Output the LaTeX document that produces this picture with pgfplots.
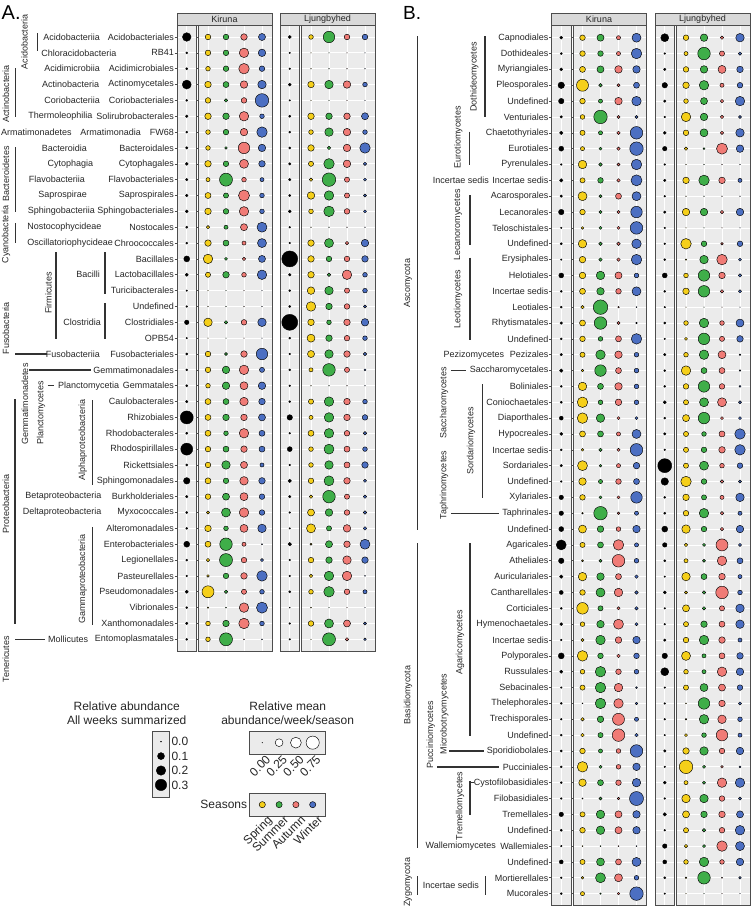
\documentclass[border=0pt]{standalone}
\usepackage{fontspec}
\setmainfont{Liberation Sans}
\usepackage{pgfplots}
\usepackage{pgfplotstable}
\pgfplotsset{compat=1.18}

\definecolor{cSpr}{HTML}{F5CF1A}
\definecolor{cSum}{HTML}{3FAE49}
\definecolor{cAut}{HTML}{F07B76}
\definecolor{cWin}{HTML}{4C6FC2}
\definecolor{panelbg}{HTML}{EBEBEB}
\definecolor{stripbg}{HTML}{D9D9D9}
\definecolor{frame}{HTML}{4D4D4D}
\definecolor{txt}{HTML}{262626}
\definecolor{barc}{HTML}{333333}

\newcommand\fs{\fontsize{9}{10}\selectfont}
\newcommand\fl{\fontsize{12}{14}\selectfont}

% columns: row, Kiruna (all weeks, spring, summer, autumn, winter), Ljungbyhed (same)
\pgfplotstableread{
r kb ky kg kr kw lb ly lg lr lw
1 0.16 0.12 0.12 0.17 0.20 0.011 0.08 0.57 0.12 0.12
2 0.003 0.12 0.12 0.38 0.23 0.001 0 0 0 0
3 0.003 0.08 0.12 0.47 0.12 0.001 0 0 0 0
4 0.177 0.17 0.14 0.23 0.30 0.011 0.17 0.30 0.23 0.08
5 0.003 0.12 0.04 0.12 0.79 0.001 0 0 0 0
6 0.006 0.17 0.17 0.38 0.08 0.003 0.17 0.17 0.17 0.20
7 0.003 0.08 0.12 0.23 0.47 0.003 0.08 0.30 0.23 0.08
8 0.006 0.08 0.02 0.57 0.23 0.003 0.17 0.04 0.23 0.47
9 0.011 0.17 0.12 0.34 0.17 0.006 0.10 0.47 0.23 0.04
10 0.006 0.06 0.73 0.08 0.06 0.006 0.04 0.79 0.10 0.03
11 0.006 0.14 0.10 0.52 0.08 0.003 0.23 0.38 0.10 0.03
12 0.011 0.17 0.12 0.38 0.08 0.011 0.08 0.47 0.12 0.03
13 0.003 0.04 0.06 0.20 0.42 0.001 0 0 0 0
14 0.003 0.17 0.14 0.06 0.34 0.001 0.17 0.34 0.04 0.23
15 0.069 0.38 0.03 0.04 0.20 0.623 0.17 0.12 0.12 0.17
16 0.011 0.10 0.17 0.08 0.38 0.006 0.17 0.04 0.38 0.08
17 0.001 0 0 0 0 0.003 0.23 0.30 0.10 0.08
18 0.001 0 0 0 0 0.003 0.38 0.17 0.12 0.03
19 0.034 0.30 0.04 0.12 0.30 0.623 0.17 0.08 0.17 0.23
20 0.001 0 0 0 0 0.003 0.26 0.17 0.12 0.08
21 0.003 0.12 0.03 0.17 0.57 0.001 0.20 0.30 0.17 0.04
22 0.003 0.12 0.23 0.38 0.10 0.003 0.06 0.68 0.10 0.01
23 0.003 0.08 0.23 0.26 0.23 0.001 0 0 0 0
24 0.006 0.14 0.14 0.30 0.17 0.003 0.10 0.38 0.17 0.08
25 0.40 0.14 0.17 0.17 0.20 0.056 0.06 0.38 0.17 0.12
26 0.003 0.14 0.08 0.38 0.14 0.001 0.14 0.38 0.12 0.04
27 0.335 0.12 0.14 0.17 0.14 0.044 0.08 0.42 0.14 0.08
28 0.003 0.12 0.30 0.20 0.06 0.001 0.08 0.30 0.14 0.17
29 0.084 0.14 0.12 0.30 0.17 0.017 0.12 0.42 0.17 0.03
30 0.006 0.12 0.20 0.26 0.12 0.006 0.04 0.68 0.10 0.04
31 0.003 0.03 0.34 0.38 0.12 0.001 0.20 0.23 0.12 0.04
32 0.003 0.17 0.08 0.26 0.30 0.001 0.34 0.10 0.23 0.04
33 0.069 0.14 0.68 0.06 0.001 0.017 0.01 0.20 0.17 0.42
34 0.003 0.04 0.73 0.12 0.03 0.001 0.12 0.17 0.30 0.17
35 0.001 0.02 0.12 0.17 0.47 0.001 0.04 0.38 0.38 0.001
36 0.011 0.62 0.04 0.10 0.08 0.003 0.08 0.47 0.12 0.06
37 0.003 0.005 0.001 0.38 0.52 0 0.001 0 0 0
38 0.006 0.08 0.17 0.47 0.08 0.001 0.12 0.34 0.20 0.03
39 0.003 0.08 0.73 0.001 0.001 0.001 0 0.73 0.04 0.02
}\dA

\pgfplotstableread{
r kb ky kg kr kw lb ly lg lr lw
1 0.011 0.12 0.20 0.06 0.34 0.136 0.12 0.23 0.04 0.30
2 0.003 0.12 0.12 0.06 0.47 0.001 0.06 0.68 0.10 0.04
3 0.011 0.14 0.20 0.23 0.23 0.006 0.12 0.23 0.26 0.17
4 0.084 0.62 0.04 0.03 0.14 0.056 0.17 0.38 0.06 0.12
5 0.056 0.12 0.06 0.23 0.38 0.006 0.08 0.20 0.04 0.38
6 0.006 0.08 0.79 0.03 0.03 0.001 0.38 0.23 0.04 0.03
7 0.017 0.10 0.06 0.04 0.68 0.011 0.12 0.26 0.04 0.30
8 0.044 0.06 0.03 0.04 0.79 0.034 0.04 0.01 0.52 0.23
9 0.001 0.30 0.04 0.03 0.47 0.001 0 0 0 0
10 0.017 0.10 0.12 0.04 0.52 0.006 0.17 0.47 0.17 0.06
11 0.006 0.34 0.03 0.14 0.34 0.001 0 0 0 0
12 0.056 0.12 0.03 0.03 0.57 0.006 0.23 0.23 0.04 0.23
13 0.001 0.02 0.03 0.03 0.68 0.001 0 0 0 0
14 0.003 0.30 0.04 0.04 0.38 0.001 0.47 0.12 0.02 0.12
15 0.001 0.17 0.04 0.04 0.47 0.003 0.005 0.30 0.47 0.03
16 0.044 0.17 0.30 0.20 0.08 0.044 0.08 0.57 0.17 0.04
17 0.003 0.14 0.23 0.12 0.34 0.003 0.17 0.57 0.04 0.03
18 0.003 0.04 0.92 0.005 0.001 0.001 0 0 0 0
19 0.006 0.14 0.68 0.03 0.005 0.003 0.08 0.38 0.08 0.26
20 0.003 0.12 0.08 0.14 0.47 0.001 0.03 0.57 0.10 0.17
21 0.006 0.10 0.38 0.23 0.08 0.006 0.08 0.38 0.26 0.005
22 0.017 0.02 0.57 0.14 0.08 0.003 0.38 0.14 0.14 0.005
23 0.003 0.30 0.14 0.23 0.08 0.003 0.12 0.57 0.12 0.01
24 0.003 0.47 0.08 0.17 0.08 0.011 0.10 0.34 0.34 0.03
25 0.025 0.47 0.30 0.03 0.03 0.003 0.20 0.57 0.03 0.03
26 0.011 0.14 0.14 0.06 0.34 0.006 0.10 0.08 0.14 0.47
27 0.003 0.02 0.04 0.03 0.68 0.001 0.10 0.12 0.17 0.47
28 0.006 0.42 0.02 0.06 0.17 0.468 0.10 0.34 0.08 0.12
29 0.001 0.23 0.06 0.12 0.14 0.117 0.47 0.12 0.04 0.03
30 0.034 0.12 0.03 0.03 0.57 0.003 0.17 0.10 0.06 0.30
31 0.034 0.005 0.79 0.02 0.06 0.003 0.12 0.38 0.04 0.06
32 0.044 0.26 0.17 0.08 0.23 0.069 0.30 0.12 0.04 0.23
33 0.224 0.10 0.14 0.47 0.06 0.034 0.04 0.03 0.62 0.03
34 0.056 0.01 0.03 0.68 0.08 0.003 0.06 0.03 0.38 0.14
35 0.017 0.30 0.23 0.14 0.04 0.001 0.30 0.14 0.17 0.06
36 0.025 0.12 0.34 0.30 0.04 0.011 0.03 0.04 0.68 0.08
37 0.003 0.57 0.10 0.03 0.04 0.001 0.20 0.04 0.10 0.30
38 0.011 0.08 0.23 0.42 0.03 0.001 0.10 0.17 0.14 0.30
39 0.001 0.03 0.38 0.17 0.23 0.006 0.12 0.38 0.17 0.06
40 0.069 0.47 0.12 0.04 0.12 0.056 0.34 0.06 0.14 0.17
41 0.011 0.08 0.47 0.12 0.08 0.136 0.08 0.06 0.38 0.23
42 0.001 0.10 0.47 0.30 0.01 0.001 0.10 0.26 0.20 0.12
43 0.003 0.001 0.47 0.38 0.02 0.001 0.001 0.57 0.17 0.03
44 0.001 0.04 0.17 0.62 0.06 0.001 0.005 0.38 0.30 0.08
45 0.003 0.04 0.10 0.68 0.04 0.001 0.03 0.08 0.57 0.06
46 0.003 0.12 0.06 0.08 0.68 0.006 0.17 0.30 0.12 0.23
47 0.003 0.47 0.03 0.08 0.23 0.001 0.79 0.03 0.02 0.01
48 0.003 0.23 0.14 0.12 0.30 0.011 0.06 0.03 0.38 0.38
49 0.001 0.001 0.03 0.02 0.85 0.001 0.30 0.30 0.12 0.03
50 0.034 0.10 0.30 0.20 0.23 0.017 0.20 0.17 0.17 0.20
51 0.003 0.12 0.30 0.20 0.23 0.001 0.10 0.04 0.12 0.38
52 0.001 0.001 0.001 0.001 0.001 0.034 0.04 0.03 0.47 0.34
53 0.025 0.10 0.26 0.14 0.34 0.025 0.08 0.38 0.08 0.23
54 0.001 0.02 0.42 0.26 0.08 0.003 0.005 0.68 0.001 0.02
55 0.003 0.06 0.005 0.02 0.79 0.001 0 0 0 0
}\dB

\pgfplotstableread{
r v
1 0
2 0.1
3 0.2
4 0.3
}\keyA

\pgfplotstableread{
x v
1 0
2 0.25
3 0.50
4 0.75
}\keyB

\pgfplotsset{
  base/.style={scale only axis, y dir=reverse, clip=false,
    axis background/.style={fill=panelbg},
    axis line style={draw=frame, line width=0.7pt},
    grid=major, major grid style={white, line width=0.8pt},
    xtick style={draw=none}, ytick style={draw=none},
    xticklabels={}, yticklabels={}},
  blk/.style={base, width=19.5pt, xmin=-0.5, xmax=0.5, xtick={0}},
  ssn/.style={base, width=73.5pt, xmin=0.472, xmax=4.556, xtick={1,2,3,4}},
  pA/.style={height=626.1pt, ymin=0.25, ymax=39.75, ytick={1,...,39}},
  pB/.style={height=879.7pt, ymin=0.25, ymax=55.75, ytick={1,...,55}},
  labs/.style={tick align=outside, major tick length=2.3pt,
    ytick style={draw=frame, line width=0.6pt},
    yticklabel style={font=\fs, text=txt, inner sep=0.5pt}},
  bub/.style={only marks, scatter, mark=*, point meta=y,
    scatter/use mapped color={draw=black, fill=#1}, mark options={line width=0.45pt}},
  sz/.style={visualization depends on={0.25+7.3*sqrt(\thisrow{#1})\as\msz},
    scatter/@pre marker code/.append style={/tikz/mark size=\msz pt}},
  bk/.style={only marks, scatter, mark=*, point meta=y,
    scatter/use mapped color={draw=none, fill=black},
    visualization depends on={0.5+9.5*sqrt(\thisrow{#1})\as\msz},
    scatter/@pre marker code/.append style={/tikz/mark size=\msz pt}},
}

\newcommand\tl[3]{\node[anchor=east,font=\fs,text=txt,inner sep=0pt] at (#1pt,-#2pt) {#3};}
\newcommand\rl[3]{\node[rotate=90,font=\fs,text=txt,inner sep=0pt] at (#1pt,-#2pt) {#3};}
\newcommand\vb[3]{\draw[barc, line width=1.4pt] (#1pt,-#2pt) -- (#1pt,-#3pt);}
\newcommand\hb[3]{\draw[barc, line width=1.4pt] (#2pt,-#1pt) -- (#3pt,-#1pt);}
\newcommand\strip[4]{\draw[fill=stripbg, draw=frame, line width=0.7pt] (#1pt,-13pt) rectangle (#2pt,-#3pt);
  \node[font=\fs, text=txt] at ({(#1+#2)/2*1pt},-19pt) {#4};}

\begin{document}
\begin{tikzpicture}
\useasboundingbox (0,0) rectangle (752pt,-913pt);

% ---------------- Panel A ----------------
\node[anchor=base west, font=\fontsize{20}{22}\selectfont, inner sep=0pt] at (1.5pt,-19pt) {A.};
\strip{177}{272}{25.1}{Kiruna}
\strip{280}{375}{25.1}{Ljungbyhed}

\begin{axis}[blk, pA, labs, at={(177pt,-25.1pt)}, anchor=north west,
  yticklabels={Acidobacteriales, RB41, Acidimicrobiales, Actinomycetales, Coriobacteriales,
    Solirubrobacterales, FW68, Bacteroidales, Cytophagales, Flavobacteriales, Saprospirales,
    Sphingobacteriales, Nostocales, Chroococcales, Bacillales, Lactobacillales, Turicibacterales,
    Undefined, Clostridiales, OPB54, Fusobacteriales, Gemmatimonadales, Gemmatales, Caulobacterales,
    Rhizobiales, Rhodobacterales, Rhodospirillales, Rickettsiales, Sphingomonadales, Burkholderiales,
    Myxococcales, Alteromonadales, Enterobacteriales, Legionellales, Pasteurellales, Pseudomonadales,
    Vibrionales, Xanthomonadales, Entomoplasmatales}]
\addplot[bk=kb] table[x expr=0, y=r]{\dA};
\end{axis}
\begin{axis}[ssn, pA, at={(198.5pt,-25.1pt)}, anchor=north west]
\addplot[bub=cSpr, sz=ky] table[x expr=1, y=r]{\dA};
\addplot[bub=cSum, sz=kg] table[x expr=2, y=r]{\dA};
\addplot[bub=cAut, sz=kr] table[x expr=3, y=r]{\dA};
\addplot[bub=cWin, sz=kw] table[x expr=4, y=r]{\dA};
\end{axis}
\begin{axis}[blk, pA, at={(280pt,-25.1pt)}, anchor=north west]
\addplot[bk=lb] table[x expr=0, y=r]{\dA};
\end{axis}
\begin{axis}[ssn, pA, at={(301.5pt,-25.1pt)}, anchor=north west]
\addplot[bub=cSpr, sz=ly] table[x expr=1, y=r]{\dA};
\addplot[bub=cSum, sz=lg] table[x expr=2, y=r]{\dA};
\addplot[bub=cAut, sz=lr] table[x expr=3, y=r]{\dA};
\addplot[bub=cWin, sz=lw] table[x expr=4, y=r]{\dA};
\end{axis}

% taxonomy labels A
\tl{100}{37}{Acidobacteriia}
\tl{116.5}{52.85}{Chloracidobacteria}
\tl{100}{68.7}{Acidimicrobiia}
\tl{99.3}{84.55}{Actinobacteria}
\tl{100}{100.4}{Coriobacteriia}
\tl{92.7}{116.25}{Thermoleophilia}
\node[anchor=west,font=\fs,text=txt,inner sep=0pt] at (1pt,-132.1pt) {Armatimonadetes};
\tl{141}{132.1}{Armatimonadia}
\tl{87}{147.95}{Bacteroidia}
\tl{93.3}{163.8}{Cytophagia}
\tl{85}{179.65}{Flavobacteriia}
\tl{87}{195.5}{Saprospirae}
\tl{95}{211.35}{Sphingobacteriia}
\tl{101.7}{227.2}{Nostocophycideae}
\tl{113}{243.05}{Oscillatoriophycideae}
\tl{100}{274.75}{Bacilli}
\tl{101}{322.3}{Clostridia}
\tl{100}{354}{Fusobacteriia}
\tl{119.3}{385.7}{Planctomycetia}
\tl{101.7}{496.65}{Betaproteobacteria}
\tl{101.7}{512.5}{Deltaproteobacteria}
\tl{88.3}{639.3}{Mollicutes}
\rl{24.3}{42}{Acidobacteria}
\rl{6}{94}{Actinobacteria}
\rl{6}{174}{Bacteroidetes}
\rl{6}{234}{Cyanobacteria}
\rl{48.3}{293}{Firmicutes}
\rl{6}{328}{Fusobacteria}
\rl{25}{404}{Gemmatimonadetes}
\rl{41}{413}{Planctomycetes}
\rl{82.7}{440}{Alphaproteobacteria}
\rl{6}{504}{Proteobacteria}
\rl{82.7}{579}{Gammaproteobacteria}
\rl{6}{659}{Tenericutes}
\vb{37.7}{33}{51}
\vb{15.7}{68}{116.5}
\vb{15.7}{147}{211.5}
\vb{15.7}{223}{243}
\vb{56}{252}{338.5}
\vb{105}{252}{294}
\vb{105}{303}{338.5}
\vb{15}{399}{623.5}
\vb{92.7}{400}{485}
\vb{92.7}{527}{625}
\hb{354}{15}{46.7}
\hb{369.85}{29.3}{90.7}
\hb{385.7}{47.7}{54.3}
\hb{639.3}{15}{45}

% ---------------- Legends ----------------
\node[align=center, font=\fl, text=txt] at (126.7pt,-713pt) {Relative abundance\\All weeks summarized};
\node[align=center, font=\fl, text=txt] at (287.7pt,-713pt) {Relative mean\\abundance/week/season};

\begin{axis}[scale only axis, at={(152.7pt,-731.7pt)}, anchor=north west, width=16.6pt, height=65.6pt,
  y dir=reverse, xmin=-0.5, xmax=0.5, ymin=0.306, ymax=4.86, clip=false,
  axis background/.style={fill=panelbg}, axis line style={draw=frame, line width=0.7pt},
  xtick=\empty, ytick={1,2,3,4}, yticklabels={0.0,0.1,0.2,0.3},
  ytick pos=right, yticklabel pos=right, ytick style={draw=none},
  yticklabel style={font=\fl, text=txt, inner sep=0pt, xshift=2pt}]
\addplot[bk=v] table[x expr=0, y=r]{\keyA};
\end{axis}

\begin{axis}[scale only axis, at={(249.3pt,-731pt)}, anchor=north west, width=76.4pt, height=23.3pt,
  xmin=0.226, xmax=4.774, ymin=0, ymax=1, clip=false,
  axis background/.style={fill=panelbg}, axis line style={draw=frame, line width=0.7pt},
  ytick=\empty, xtick={1,2,3,4}, xticklabels={0.00,0.25,0.50,0.75}, xtick style={draw=none},
  xticklabel style={font=\fl, text=txt, rotate=45, anchor=north east, inner sep=0pt, xshift=2pt, yshift=-2pt}]
\addplot[bub=white, sz=v] table[x=x, y expr=0.5]{\keyB};
\end{axis}

\begin{axis}[scale only axis, at={(249.3pt,-793.3pt)}, anchor=north west, width=76.4pt, height=22.7pt,
  xmin=0.226, xmax=4.774, ymin=0, ymax=1, clip=false,
  axis background/.style={fill=panelbg}, axis line style={draw=frame, line width=0.7pt},
  ytick=\empty, xtick={1,2,3,4}, xticklabels={Spring,Summer,Autumn,Winter}, xtick style={draw=none},
  xticklabel style={font=\fl, text=txt, rotate=45, anchor=north east, inner sep=0pt, xshift=4pt, yshift=-2pt}]
\addplot[only marks, mark=*, mark size=3.1pt, mark options={draw=black, fill=cSpr, line width=0.45pt}] coordinates {(1,0.5)};
\addplot[only marks, mark=*, mark size=3.1pt, mark options={draw=black, fill=cSum, line width=0.45pt}] coordinates {(2,0.5)};
\addplot[only marks, mark=*, mark size=3.1pt, mark options={draw=black, fill=cAut, line width=0.45pt}] coordinates {(3,0.5)};
\addplot[only marks, mark=*, mark size=3.1pt, mark options={draw=black, fill=cWin, line width=0.45pt}] coordinates {(4,0.5)};
\end{axis}
\node[anchor=east, font=\fl, text=txt, inner sep=0pt] at (247.3pt,-804.3pt) {Seasons};

% ---------------- Panel B ----------------
\node[anchor=base west, font=\fontsize{19}{21}\selectfont, inner sep=0pt] at (403pt,-19pt) {B.};
\strip{551.5}{646.5}{25.8}{Kiruna}
\strip{655}{750}{25.8}{Ljungbyhed}

\begin{axis}[blk, pB, labs, at={(551.5pt,-25.8pt)}, anchor=north west,
  yticklabels={Capnodiales, Dothideales, Myriangiales, Pleosporales, Undefined, Venturiales,
    Chaetothyriales, Eurotiales, Pyrenulales, Incertae sedis, Acarosporales, Lecanorales,
    Teloschistales, Undefined, Erysiphales, Helotiales, Incertae sedis, Leotiales, Rhytismatales,
    Undefined, Pezizales, Saccharomycetales, Boliniales, Coniochaetales, Diaporthales, Hypocreales,
    Incertae sedis, Sordariales, Undefined, Xylariales, Taphrinales, Undefined, Agaricales,
    Atheliales, Auriculariales, Cantharellales, Corticiales, Hymenochaetales, Incertae sedis,
    Polyporales, Russulales, Sebacinales, Thelephorales, Trechisporales, Undefined,
    Sporidiobolales, Pucciniales, Cystofilobasidiales, Filobasidiales, Tremellales, Undefined,
    Wallemiales, Undefined, Mortierellales, Mucorales}]
\addplot[bk=kb] table[x expr=0, y=r]{\dB};
\end{axis}
\begin{axis}[ssn, pB, at={(573pt,-25.8pt)}, anchor=north west]
\addplot[bub=cSpr, sz=ky] table[x expr=1, y=r]{\dB};
\addplot[bub=cSum, sz=kg] table[x expr=2, y=r]{\dB};
\addplot[bub=cAut, sz=kr] table[x expr=3, y=r]{\dB};
\addplot[bub=cWin, sz=kw] table[x expr=4, y=r]{\dB};
\end{axis}
\begin{axis}[blk, pB, at={(655pt,-25.8pt)}, anchor=north west]
\addplot[bk=lb] table[x expr=0, y=r]{\dB};
\end{axis}
\begin{axis}[ssn, pB, at={(676.5pt,-25.8pt)}, anchor=north west]
\addplot[bub=cSpr, sz=ly] table[x expr=1, y=r]{\dB};
\addplot[bub=cSum, sz=lg] table[x expr=2, y=r]{\dB};
\addplot[bub=cAut, sz=lr] table[x expr=3, y=r]{\dB};
\addplot[bub=cWin, sz=lw] table[x expr=4, y=r]{\dB};
\end{axis}

% taxonomy labels B
\tl{489}{180.35}{Incertae sedis}
\tl{504.3}{354.7}{Pezizomycetes}
\tl{496}{846.1}{Wallemiomycetes}
\node[font=\fs, text=txt, inner sep=0pt] at (450.8pt,-885.7pt) {Incertae sedis};
\rl{408}{283}{Ascomycota}
\rl{408}{695}{Basidiomycota}
\rl{408}{882}{Zygomycota}
\rl{474.3}{77}{Dothideomycetes}
\rl{458.3}{137}{Eurotiomycetes}
\rl{458}{225}{Lecanoromycetes}
\rl{458}{299}{Leotiomycetes}
\rl{444}{403}{Saccharomycetes}
\rl{471}{441}{Sordariomycetes}
\rl{444}{485}{Taphrinomycetes}
\rl{460}{642}{Agaricomycetes}
\rl{444.3}{714}{Microbotryomycetes}
\rl{430.7}{735}{Pucciniomycetes}
\rl{460}{806}{Tremellomycetes}
\vb{417.7}{36}{530}
\vb{417.7}{543}{848}
\vb{417.7}{876}{895}
\vb{485.7}{876}{895}
\vb{485}{36}{117}
\vb{469.3}{131.7}{165}
\vb{470}{195}{245}
\vb{470}{257.7}{340}
\vb{482.3}{384}{498}
\vb{470}{543}{736}
\vb{470}{781}{815}
\hb{370.55}{451}{465.7}
\hb{513.2}{451}{499}
\hb{751}{449}{484.3}
\hb{766.85}{437.3}{499}
\hb{782.7}{470}{474}
\end{tikzpicture}
\end{document}
